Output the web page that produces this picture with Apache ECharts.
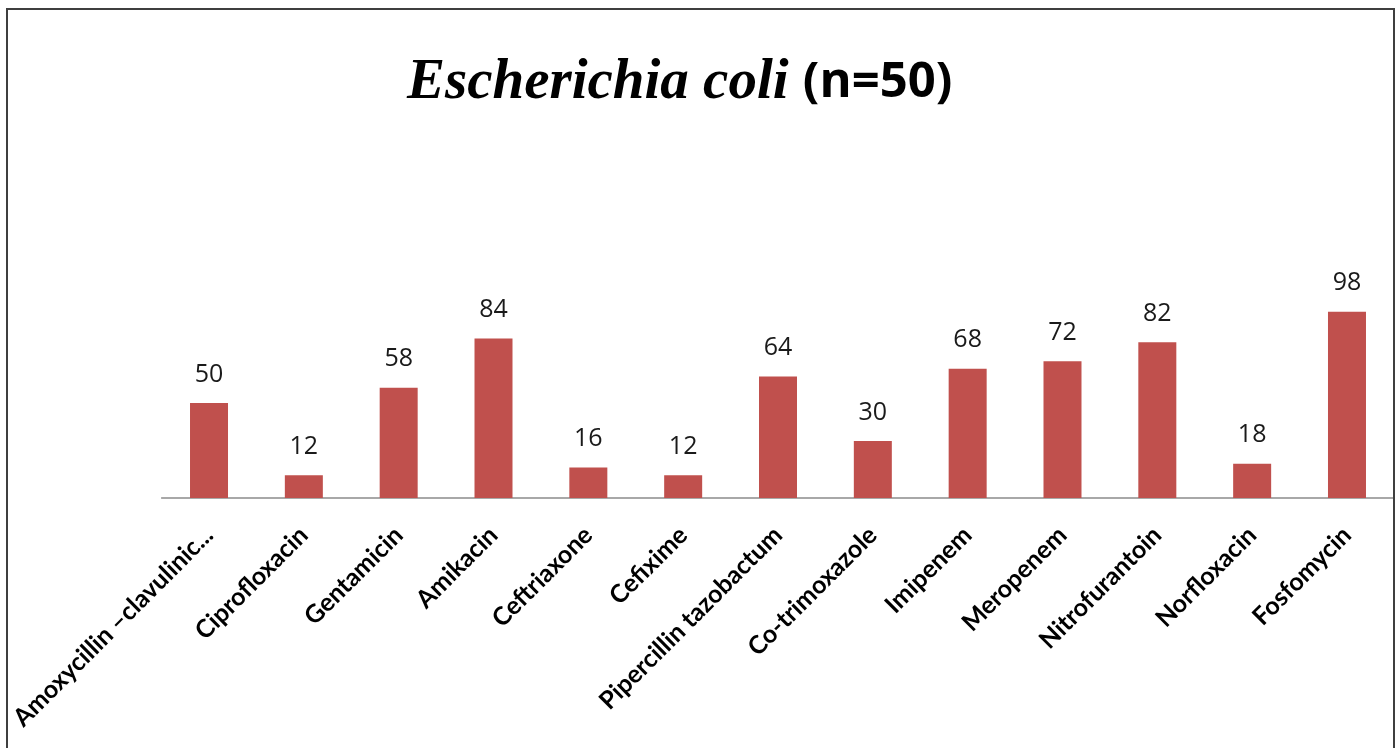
<!DOCTYPE html>
<html>
<head>
<meta charset="utf-8">
<script src="https://cdn.jsdelivr.net/npm/echarts@6/dist/echarts.min.js"></script>
<style>
  html, body { margin: 0; padding: 0; background: #ffffff; }
  #chart { width: 1400px; height: 748px; }
</style>
</head>
<body>
<div id="chart"></div>
<script>
// Antibiotic susceptibility of Escherichia coli isolates (%)
const antibiotics = [
  'Amoxycillin \u2013clavulinic...', 'Ciprofloxacin', 'Gentamicin', 'Amikacin',
  'Ceftriaxone', 'Cefixime', 'Pipercillin tazobactum', 'Co-trimoxazole',
  'Imipenem', 'Meropenem', 'Nitrofurantoin', 'Norfloxacin', 'Fosfomycin'
];
const susceptibility = [50, 12, 58, 84, 16, 12, 64, 30, 68, 72, 82, 18, 98];

const chart = echarts.init(document.getElementById('chart'), null, { renderer: 'canvas' });

chart.setOption({
  backgroundColor: '#ffffff',
  animation: false,
  title: {
    text: '{a|Escherichia coli\u00a0}{b|(n=50)}',
    left: 402,
    top: 50,
    textStyle: {
      rich: {
        a: {
          fontFamily: 'Liberation Serif',
          fontStyle: 'italic',
          fontWeight: 'bold',
          fontSize: 57,
          color: '#000000'
        },
        b: {
          fontFamily: 'Open Sans',
          fontWeight: 'bold',
          fontSize: 49,
          color: '#000000'
        }
      }
    }
  },
  graphic: [{
    type: 'rect',
    silent: true,
    z: 100,
    shape: { x: 7, y: 9, width: 1387, height: 760 },
    style: { fill: 'none', stroke: '#3f3f3f', lineWidth: 2 }
  }],
  grid: {
    left: 161.6,
    right: 5.6,
    top: 308,
    bottom: 250,
    containLabel: false
  },
  xAxis: {
    type: 'category',
    data: antibiotics,
    axisLine: { show: true, lineStyle: { color: '#8c8c8c', width: 1.5 } },
    axisTick: { show: false },
    axisLabel: {
      interval: 0,
      rotate: 45,
      margin: 33,
      fontFamily: 'Lato',
      fontWeight: 'bold',
      fontSize: 25,
      color: '#000000'
    }
  },
  yAxis: {
    type: 'value',
    min: 0,
    max: 100,
    show: false,
    splitLine: { show: false }
  },
  series: [{
    type: 'bar',
    data: susceptibility,
    barWidth: 38,
    itemStyle: { color: '#c0504d' },
    label: {
      show: true,
      position: 'top',
      distance: 16,
      fontFamily: 'Open Sans',
      fontSize: 25,
      color: '#1a1a1a'
    }
  }]
});
</script>
</body>
</html>
